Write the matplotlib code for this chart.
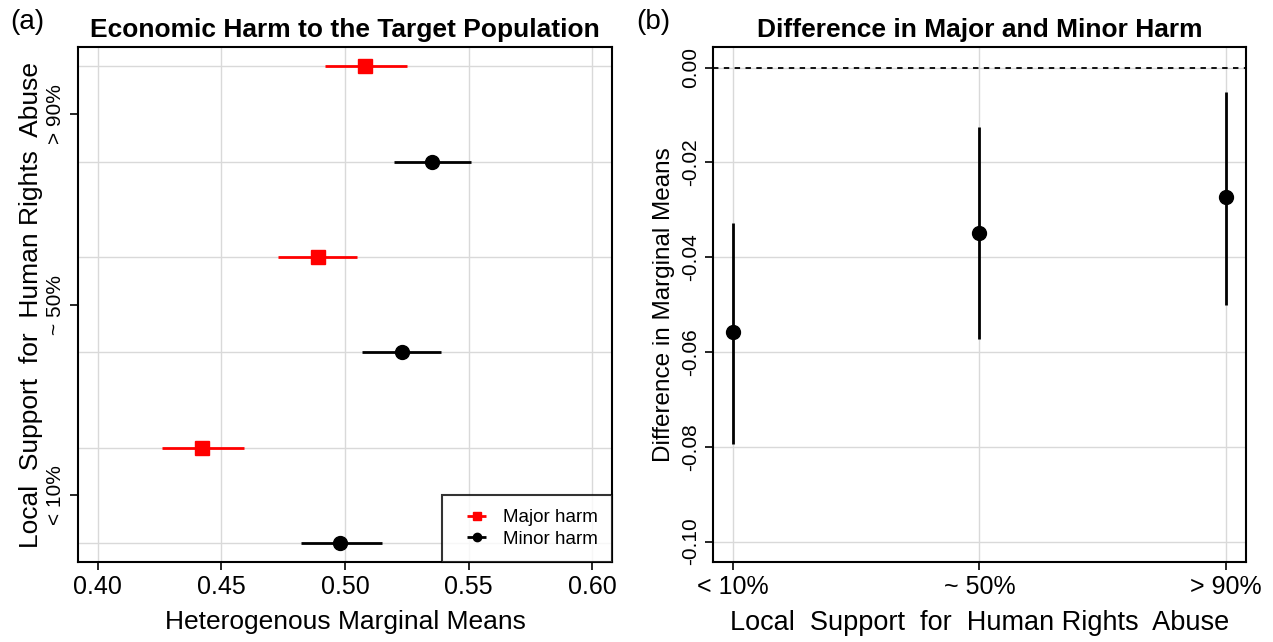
import matplotlib
matplotlib.use("Agg")
import matplotlib.pyplot as plt
import numpy as np

plt.rcParams["font.family"] = ["Liberation Sans", "DejaVu Sans"]

# panel (a): rows listed top to bottom
support_levels = ["> 90%", "~ 50%", "< 10%"]
major_est = [0.508, 0.489, 0.442]
major_lo = [0.492, 0.473, 0.426]
major_hi = [0.525, 0.505, 0.459]
minor_est = [0.535, 0.523, 0.498]
minor_lo = [0.520, 0.507, 0.482]
minor_hi = [0.551, 0.539, 0.515]

# panel (b): difference (major - minor)
diff_levels = ["< 10%", "~ 50%", "> 90%"]
diff_est = [-0.0558, -0.0349, -0.0274]
diff_lo = [-0.0794, -0.0573, -0.0501]
diff_hi = [-0.0328, -0.0126, -0.0051]

support_label = "Local  Support  for  Human Rights  Abuse"

fig = plt.figure(figsize=(12.73, 6.42), dpi=100)
ax1 = fig.add_axes([0.0613, 0.1246, 0.4195, 0.802])
ax2 = fig.add_axes([0.560, 0.1246, 0.4188, 0.802])

grid_kw = dict(color="#d9d9d9", linewidth=1.0, zorder=0)

# ---- panel (a)
n = len(support_levels)
y_major = np.arange(n) * 2 + 1
y_minor = y_major + 1
for xv in [0.40, 0.45, 0.50, 0.55, 0.60]:
    ax1.axvline(xv, **grid_kw)
for yv in np.arange(1, 2 * n + 1):
    ax1.axhline(yv, **grid_kw)

ax1.errorbar(major_est, y_major,
             xerr=[np.subtract(major_est, major_lo), np.subtract(major_hi, major_est)],
             fmt="s", color="red", ecolor="red", elinewidth=2, markersize=10,
             capsize=0, label="Major harm", zorder=3)
ax1.errorbar(minor_est, y_minor,
             xerr=[np.subtract(minor_est, minor_lo), np.subtract(minor_hi, minor_est)],
             fmt="o", color="black", ecolor="black", elinewidth=2, markersize=10,
             capsize=0, label="Minor harm", zorder=3)

ax1.set_xlim(0.392, 0.608)
ax1.set_ylim(2 * n + 0.2, 0.8)
ax1.set_xticks([0.40, 0.45, 0.50, 0.55, 0.60])
ax1.set_xticklabels(["0.40", "0.45", "0.50", "0.55", "0.60"])
ax1.set_yticks(y_major + 0.5)
ax1.set_yticklabels(support_levels, rotation=90, va="center")
ax1.set_xlabel("Heterogenous Marginal Means", fontsize=19, labelpad=8)
ax1.set_ylabel(support_label, fontsize=19, labelpad=2)
ax1.set_title("Economic Harm to the Target Population", fontsize=19,
              fontweight="bold", pad=7)
leg = ax1.legend(loc="lower right", fontsize=13.5, frameon=True, fancybox=False,
                 borderaxespad=0, handlelength=2.2, handletextpad=0.3,
                 borderpad=0.75, labelspacing=0.25, markerscale=0.6)
leg.get_frame().set_edgecolor("black")
leg.get_frame().set_linewidth(1.5)

# ---- panel (b)
xb = np.arange(1, len(diff_levels) + 1)
for xv in xb:
    ax2.axvline(xv, **grid_kw)
for yv in [0.0, -0.02, -0.04, -0.06, -0.08, -0.10]:
    ax2.axhline(yv, **grid_kw)
ax2.axhline(0, color="black", linestyle=(0, (3, 3)), linewidth=1.3, zorder=2)
ax2.vlines(xb, diff_lo, diff_hi, color="black", linewidth=2, zorder=3)
ax2.plot(xb, diff_est, "o", color="black", markersize=10, zorder=4)

ax2.set_xlim(0.92, 3.08)
ax2.set_ylim(-0.1043, 0.0043)
ax2.set_xticks(xb)
ax2.set_xticklabels(diff_levels)
ax2.set_yticks([0.0, -0.02, -0.04, -0.06, -0.08, -0.10])
ax2.set_yticklabels(["0.00", "-0.02", "-0.04", "-0.06", "-0.08", "-0.10"],
                    rotation=90, va="center")
ax2.set_xlabel(support_label, fontsize=19.5, labelpad=8)
ax2.set_ylabel("Difference in Marginal Means", fontsize=17.5, labelpad=4)
ax2.set_title("Difference in Major and Minor Harm", fontsize=19,
              fontweight="bold", pad=7)

for ax in (ax1, ax2):
    for sp in ax.spines.values():
        sp.set_linewidth(1.5)
    ax.tick_params(axis="x", labelsize=18, length=6, width=1.2, direction="out")
    ax.tick_params(axis="y", labelsize=15, length=6, width=1.2, direction="out")

fig.text(0.008, 0.955, "(a)", fontsize=20)
fig.text(0.500, 0.955, "(b)", fontsize=20)

fig.savefig("out.png", dpi=100)
